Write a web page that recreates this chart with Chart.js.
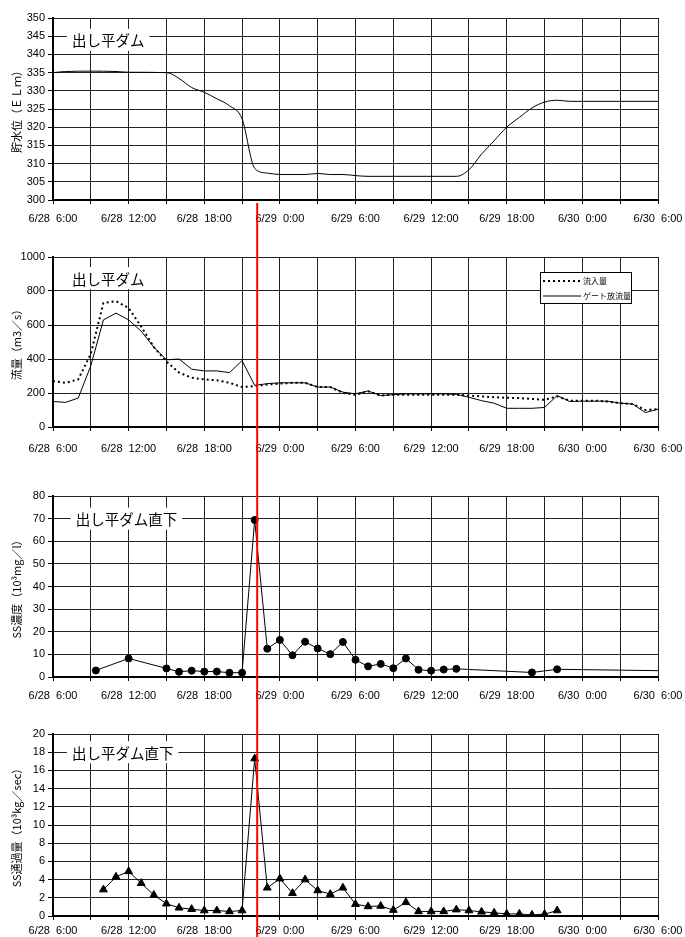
<!DOCTYPE html>
<html>
<head>
<meta charset="utf-8">
<script src="https://cdn.jsdelivr.net/npm/chart.js@4"></script>
<style>
  body { margin: 0; background: #fff; }
  #wrap { position: relative; width: 685px; height: 937px; }
  canvas { position: absolute; left: 0; }
</style>
</head>
<body>
<div id="wrap">
  <canvas id="c1" width="685" height="232" style="top:0px"></canvas>
  <canvas id="c2" width="685" height="234" style="top:232px"></canvas>
  <canvas id="c3" width="685" height="238" style="top:466px"></canvas>
  <canvas id="c4" width="685" height="233" style="top:704px"></canvas>
</div>
<script>
// hours counted from 6/28 6:00
const xTickLabels = ['6/28  6:00', '6/28  12:00', '6/28  18:00', '6/29  0:00', '6/29  6:00',
  '6/29  12:00', '6/29  18:00', '6/30  0:00', '6/30  6:00'];
const redLineHour = 16.2;

const levelHours = [0, 1, 3, 5, 6, 9, 10, 11, 12, 13, 14, 15, 16, 17, 18, 20, 21, 22, 23, 24, 25,
  32, 33, 34, 35, 36, 37, 38, 39, 40, 41, 48];
const level = [335.0, 335.3, 335.4, 335.3, 335.1, 335.0, 333.4, 330.9, 329.6, 327.8, 325.9, 322.3,
  308.7, 307.4, 307.0, 307.0, 307.3, 307.0, 307.0, 306.7, 306.5,
  306.5, 308.3, 312.6, 316.3, 320.0, 322.7, 325.3, 326.9, 327.4, 327.1, 327.1];

const flowHours = [0, 1, 2, 3, 4, 5, 6, 7, 8, 9, 10, 11, 12, 13, 14, 15, 16, 17, 18, 19, 20, 21, 22,
  23, 24, 25, 26, 27, 28, 29, 30, 31, 32, 33, 34, 35, 36, 37, 38, 39, 40, 41, 42, 43, 44, 45, 46, 47, 48];
const inflow = [270, 260, 280, 430, 730, 740, 700, 590, 470, 385, 320, 290, 280, 275, 260, 235, 240,
  250, 255, 260, 260, 235, 235, 200, 190, 210, 185, 190, 190, 190, 190, 190, 190, 185, 180, 175,
  172, 170, 165, 160, 180, 155, 155, 155, 150, 140, 135, 100, 105];
const gateOutflow = [150, 145, 170, 360, 630, 670, 630, 563, 470, 395, 400, 340, 330, 330, 320, 390,
  245, 255, 260, 260, 260, 235, 235, 205, 195, 212, 185, 190, 195, 195, 195, 195, 192, 175, 155,
  140, 110, 110, 110, 115, 185, 150, 152, 152, 152, 140, 135, 85, 105];

const ssConcHours = [3.4, 6, 9, 10, 11, 12, 13, 14, 15, 16, 17, 18, 19, 20, 21, 22, 23, 24, 25, 26,
  27, 28, 29, 30, 31, 32, 38, 40, 48];
const ssConc = [2.9, 8.2, 3.8, 2.3, 2.8, 2.4, 2.4, 1.9, 1.9, 69.4, 12.5, 16.4, 9.6, 15.6, 12.6, 10.1,
  15.5, 7.6, 4.7, 5.8, 3.9, 8.2, 3.2, 2.8, 3.3, 3.6, 2.0, 3.4, 2.8];

const ssLoadHours = [4, 5, 6, 7, 8, 9, 10, 11, 12, 13, 14, 15, 16, 17, 18, 19, 20, 21, 22, 23, 24, 25,
  26, 27, 28, 29, 30, 31, 32, 33, 34, 35, 36, 37, 38, 39, 40];
const ssLoad = [2.9, 4.3, 4.9, 3.6, 2.3, 1.35, 0.9, 0.75, 0.6, 0.6, 0.5, 0.6, 17.3, 3.1, 4.1, 2.5,
  4.0, 2.8, 2.4, 3.1, 1.3, 1.05, 1.1, 0.65, 1.5, 0.5, 0.5, 0.5, 0.7, 0.6, 0.46, 0.35, 0.23, 0.23,
  0.12, 0.2, 0.6];

const FONT = "'Liberation Sans', 'Noto Sans CJK JP', sans-serif";
const JFONT = "'Noto Sans CJK JP', 'Liberation Sans', sans-serif";

const pts = (xs, ys) => xs.map((x, i) => ({ x, y: ys[i] }));

const redLine = {
  id: 'redLine',
  afterDraw(chart, args, o) {
    const ctx = chart.ctx;
    const x = chart.scales.x.getPixelForValue(redLineHour);
    ctx.save();
    ctx.strokeStyle = '#ff0000';
    ctx.lineWidth = 2;
    ctx.beginPath();
    ctx.moveTo(x, o.fromPlot ? chart.chartArea.bottom + 3 : 0);
    ctx.lineTo(x, chart.height);
    ctx.stroke();
    ctx.restore();
  }
};

const panelLabel = {
  id: 'panelLabel',
  beforeDatasetsDraw(chart, args, o) {
    if (!o.text) return;
    const ctx = chart.ctx;
    const x = chart.scales.x.getPixelForValue(o.hour);
    const y = chart.scales.y.getPixelForValue(o.value);
    ctx.save();
    ctx.font = '14.5px ' + JFONT;
    const w = ctx.measureText(o.text).width;
    ctx.fillStyle = '#fff';
    ctx.fillRect(x - 5, y - 11, w + 10, 22);
    ctx.fillStyle = '#000';
    ctx.textBaseline = 'middle';
    ctx.fillText(o.text, x, y + 1);
    ctx.restore();
  }
};

const boxLegend = {
  id: 'boxLegend',
  afterDatasetsDraw(chart, args, o) {
    if (!o.show) return;
    const ctx = chart.ctx;
    const a = chart.chartArea;
    const left = a.right - 118, top = a.top + 15, w = 91, h = 31;
    ctx.save();
    ctx.fillStyle = '#fff';
    ctx.fillRect(left, top, w, h);
    ctx.strokeStyle = '#000';
    ctx.lineWidth = 1;
    ctx.strokeRect(left + 0.5, top + 0.5, w, h);
    ctx.font = '8px ' + JFONT;
    ctx.textBaseline = 'middle';
    chart.data.datasets.forEach((ds, i) => {
      const y = top + 9 + i * 15;
      ctx.strokeStyle = ds.borderColor;
      ctx.lineWidth = ds.borderWidth;
      ctx.setLineDash(ds.borderDash || []);
      ctx.beginPath();
      ctx.moveTo(left + 3, y);
      ctx.lineTo(left + 41, y);
      ctx.stroke();
      ctx.setLineDash([]);
      ctx.fillStyle = '#000';
      ctx.fillText(ds.label, left + 43, y);
    });
    ctx.restore();
  }
};

function makeChart(id, canvasH, plotTop, plotBottom, labelPad, yMin, yMax, yStep, yTitle, datasets, extra) {
  return new Chart(document.getElementById(id), {
    type: 'line',
    data: { datasets },
    plugins: [redLine, panelLabel, boxLegend],
    options: {
      responsive: false,
      animation: false,
      layout: { padding: { top: plotTop, left: 0, right: 0, bottom: 0 } },
      plugins: {
        legend: { display: false },
        tooltip: { enabled: false },
        redLine: { fromPlot: extra.fromPlot || false },
        panelLabel: extra.label,
        boxLegend: { show: extra.legend || false }
      },
      scales: {
        x: {
          type: 'linear',
          min: 0,
          max: 48,
          afterFit: s => { s.height = canvasH - plotBottom; s.paddingLeft = 0; s.paddingRight = 27; },
          ticks: {
            stepSize: 3,
            autoSkip: false,
            maxRotation: 0,
            padding: labelPad,
            color: '#000',
            font: { family: FONT, size: 11 },
            callback: v => (v % 6 === 0 ? xTickLabels[v / 6] : '')
          },
          grid: { color: '#222', lineWidth: 1, tickLength: 4, tickColor: '#000' },
          border: { color: '#000', width: 2 }
        },
        y: {
          min: yMin,
          max: yMax,
          afterFit: s => { s.width = 53; s.paddingTop = 0; s.paddingBottom = 0; },
          ticks: {
            stepSize: yStep,
            padding: 3,
            color: '#000',
            font: { family: FONT, size: 11 },
            callback: v => String(v)
          },
          grid: { color: '#222', lineWidth: 1, tickLength: 5, tickColor: '#000' },
          border: { color: '#000', width: 2 },
          title: {
            display: true,
            text: yTitle,
            color: '#000',
            font: { family: JFONT, size: 11 },
            padding: { top: 10, bottom: 0 }
          }
        }
      }
    }
  });
}

makeChart('c1', 232, 18, 200, 8, 300, 350, 5, '貯水位（ＥＬｍ）', [{
  data: pts(levelHours, level),
  borderColor: '#000',
  borderWidth: 1,
  pointRadius: 0,
  cubicInterpolationMode: 'monotone'
}], { fromPlot: true, label: { text: '出し平ダム', hour: 1.5, value: 344 } });

makeChart('c2', 234, 25, 195, 11, 0, 1000, 200, '流量（m3／s）', [{
  label: '流入量',
  data: pts(flowHours, inflow),
  borderColor: '#000',
  borderWidth: 2,
  borderDash: [2, 3],
  pointRadius: 0
}, {
  label: 'ゲート放流量',
  data: pts(flowHours, gateOutflow),
  borderColor: '#000',
  borderWidth: 1,
  pointRadius: 0
}], { legend: true, label: { text: '出し平ダム', hour: 1.5, value: 876 } });

makeChart('c3', 238, 30, 211, 8, 0, 80, 10, 'SS濃度（10³mg／l）', [{
  data: pts(ssConcHours, ssConc),
  borderColor: '#000',
  borderWidth: 1,
  pointStyle: 'circle',
  pointRadius: c => (c.dataIndex === ssConc.length - 1 ? 0 : 3.5),
  pointBackgroundColor: '#000',
  pointBorderColor: '#000'
}], { label: { text: '出し平ダム直下', hour: 1.8, value: 70 } });

makeChart('c4', 233, 30, 212, 4, 0, 20, 2, 'SS通過量（10³kg／sec）', [{
  data: pts(ssLoadHours, ssLoad),
  borderColor: '#000',
  borderWidth: 1,
  pointStyle: 'triangle',
  pointRadius: 4.5,
  pointBackgroundColor: '#000',
  pointBorderColor: '#000'
}], { label: { text: '出し平ダム直下', hour: 1.5, value: 18 } });
</script>
</body>
</html>
